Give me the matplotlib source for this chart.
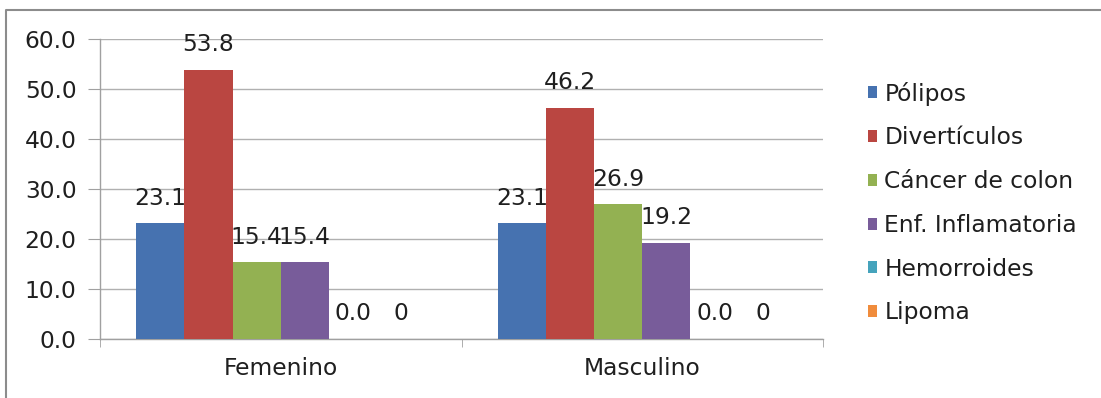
import matplotlib
matplotlib.use("Agg")
import matplotlib.pyplot as plt
from matplotlib.patches import Patch
from matplotlib.lines import Line2D
import numpy as np

plt.rcParams['font.family'] = ['DejaVu Sans']

categories = ["Femenino", "Masculino"]
series_names = ["Pólipos", "Divertículos", "Cáncer de colon",
                "Enf. Inflamatoria", "Hemorroides", "Lipoma"]
polipos = [23.1, 23.1]
diverticulos = [53.8, 46.2]
cancer_colon = [15.4, 26.9]
enf_inflamatoria = [15.4, 19.2]
hemorroides = [0.0, 0.0]
lipoma = [0, 0]
series_values = [polipos, diverticulos, cancer_colon,
                 enf_inflamatoria, hemorroides, lipoma]
label_formats = ["{:.1f}", "{:.1f}", "{:.1f}", "{:.1f}", "{:.1f}", "{:.0f}"]
colors = ["#4672B0", "#BA4641", "#93B152", "#785C9A", "#45A3BC", "#F08C3C"]
y_ticks = [0, 10, 20, 30, 40, 50, 60]

W, H = 1101, 398
fig = plt.figure(figsize=(W / 100, H / 100), dpi=100)
fig.patch.set_facecolor("white")

# outer chart frame (left and top edges)
frame = Line2D([6.5 / W, 6.5 / W, 1.0],
               [0, 1 - 10 / H, 1 - 10 / H],
               transform=fig.transFigure, color="#8c8c8c", lw=1.5)
fig.add_artist(frame)

ax = fig.add_axes([100 / W, (H - 339) / H, (823 - 100) / W, 300 / H])

n = len(series_values)
group_width = 0.8
bw = group_width / n
centers = np.array([0.5, 1.5])
text_color = "#1f1f1f"
fs = 16.8

for i, (vals, c, fmt) in enumerate(zip(series_values, colors, label_formats)):
    x = centers - group_width / 2 + bw * (i + 0.5)
    ax.bar(x, vals, width=bw, color=c, zorder=3, linewidth=0)
    for xi, v in zip(x, vals):
        ax.annotate(fmt.format(v), (xi, v), xytext=(0, 18),
                    textcoords="offset points", ha="center", va="center",
                    fontsize=fs, color=text_color, zorder=4)

ax.set_xlim(0, 2)
ax.set_ylim(0, 60)
ax.set_yticks(y_ticks)
ax.set_yticklabels([f"{t:.1f}" for t in y_ticks], fontsize=fs, color=text_color)
ax.set_xticks(centers)
ax.set_xticklabels(categories, fontsize=fs, color=text_color)
ax.set_xticks([0, 1, 2], minor=True)
ax.tick_params(axis="x", which="major", length=0, pad=13)
ax.tick_params(axis="x", which="minor", length=6, color="#a0a0a0", direction="out")
ax.tick_params(axis="y", length=9, color="#a0a0a0", direction="out", pad=8)

ax.grid(axis="y", color="#b0b0b0", lw=1, zorder=0)
ax.set_axisbelow(True)
for s in ["top", "right"]:
    ax.spines[s].set_visible(False)
for s in ["left", "bottom"]:
    ax.spines[s].set_color("#a0a0a0")
    ax.spines[s].set_linewidth(1)
ax.set_facecolor("white")

handles = [Patch(facecolor=c, edgecolor="none") for c in colors]
fig.legend(handles, series_names, loc="upper left",
           bbox_to_anchor=(856 / W, 1 - 70 / H), frameon=False,
           fontsize=fs, handlelength=0.42, handleheight=0.42,
           handletextpad=0.3, labelspacing=0.89, borderpad=0,
           labelcolor=text_color)

fig.savefig("out.png", dpi=100, facecolor="white")
